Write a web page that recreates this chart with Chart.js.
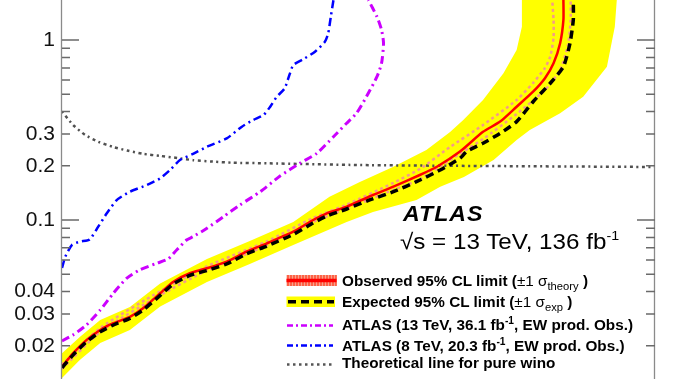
<!DOCTYPE html>
<html><head><meta charset="utf-8">
<script src="https://cdn.jsdelivr.net/npm/chart.js@4.4.1/dist/chart.umd.min.js"></script>
<style>
html,body{margin:0;padding:0;background:#fff;overflow:hidden}
#wrap{position:relative;width:676px;height:379px}
#c{position:absolute;left:0;top:0}
.t{position:absolute;white-space:nowrap;font-family:'Liberation Sans',Arial,sans-serif;color:#000;transform-origin:0 50%}
.leg{font-size:15px;font-weight:bold;line-height:15px;left:341.5px;transform:scaleX(1.02)}
.n{font-weight:normal}
.sub{position:relative;top:4px;font-size:11px;font-weight:normal}
.sup{position:relative;top:-6px;font-size:10px}
</style></head><body>
<div id="wrap"><canvas id="c" width="676" height="379"></canvas>
<div class="t" style="left:403px;top:203px;font-size:22px;line-height:22px;font-weight:bold;font-style:italic;letter-spacing:1px;transform:scaleX(1.05)">ATLAS</div>
<div class="t" style="left:400px;top:231px;font-size:22px;line-height:22px;transform:scaleX(1.1)">√s = 13 TeV, 136 fb<span style="position:relative;top:-9px;font-size:13px">-1</span></div>
<div class="t leg" style="top:273px">Observed 95% CL limit (<span class="n">±1 σ</span><span class="sub">theory</span> )</div>
<div class="t leg" style="top:294px">Expected 95% CL limit (<span class="n">±1 σ</span><span class="sub">exp</span> )</div>
<div class="t leg" style="top:317px">ATLAS (13 TeV, 36.1 fb<span class="sup">-1</span>, EW prod. Obs.)</div>
<div class="t leg" style="top:337.5px">ATLAS (8 TeV, 20.3 fb<span class="sup">-1</span>, EW prod. Obs.)</div>
<div class="t leg" style="top:355px">Theoretical line for pure wino</div>
</div>
<script>
// ---- data (chargino mass [GeV], lifetime [ns]) ----
const theoryMass = [100,117,135,155,177,199,223,249,275,299,329,360,411,552,693,1000];
const theoryTau  = [0.400,0.337,0.297,0.272,0.255,0.243,0.233,0.227,0.221,0.215,0.211,0.208,0.2065,0.202,0.200,0.197];

const atlas8Mass = [100,105,115,127,142,155,168,183,203,229,249,264,279,299,320,350,373,390,406,416,426,438,446,451,466,484,499,504,508,512];
const atlas8Tau  = [0.0541,0.0625,0.0726,0.0757,0.078,0.0918,0.1089,0.129,0.1436,0.1565,0.1704,0.1896,0.2154,0.233,0.255,0.284,0.330,0.359,0.383,0.426,0.484,0.539,0.653,0.726,0.781,0.861,0.978,1.089,1.347,1.668];

const atlas13Mass = [100,117,137,158,178,198,218,244,261,274,289,299,320,345,370,401,431,461,487,512,532,547,562,578,585,588,585,578,565];
const atlas13Tau  = [0.0213,0.0230,0.0261,0.0316,0.0392,0.0474,0.0528,0.0575,0.0607,0.0681,0.0774,0.0808,0.0899,0.1043,0.1212,0.1436,0.1756,0.2065,0.235,0.290,0.345,0.392,0.484,0.625,0.742,0.959,1.137,1.347,1.668];

const obsMass = [100,117,137,158,178,203,223,249,269,294,320,350,380,411,451,481,502,532,572,603,643,669,704,739,765,790,815,833,846,856,861,861];
const obsTau  = [0.0153,0.0182,0.0215,0.0245,0.0267,0.0290,0.0323,0.0392,0.0454,0.0506,0.0539,0.0587,0.0667,0.0742,0.0861,0.100,0.1089,0.1186,0.1377,0.1531,0.1778,0.1977,0.240,0.309,0.352,0.426,0.516,0.613,0.742,0.959,1.292,1.668];

const obsUpMass = [100,158,249,320,411,481,532,603,643,689,739,790,815,833,841,846,846,844];
const obsUpTau  = [0.0157,0.0251,0.0402,0.0553,0.0761,0.1026,0.1217,0.161,0.192,0.2544,0.337,0.464,0.577,0.699,0.808,1.026,1.292,1.668];
const obsDnMass = [100,158,249,320,411,481,532,603,643,689,739,790,833,856,868,872,872];
const obsDnTau  = [0.0149,0.0239,0.0382,0.0525,0.0723,0.0975,0.1156,0.147,0.168,0.2154,0.2818,0.388,0.528,0.681,0.938,1.292,1.668];

const expMass = [100,117,137,158,178,203,223,249,269,294,320,350,380,411,451,481,502,532,567,603,638,674,704,714,739,765,790,815,841,861,871,876,876];
const expTau  = [0.0151,0.0178,0.0210,0.0239,0.0261,0.0284,0.0316,0.0381,0.0441,0.0492,0.0524,0.0570,0.0648,0.0717,0.0831,0.0962,0.1052,0.1151,0.1292,0.1436,0.1632,0.1896,0.220,0.240,0.267,0.303,0.352,0.454,0.575,0.711,0.959,1.292,1.668];

const expUpMass = [100,127,158,203,249,320,385,451,506,552,603,653,689,709,739,770,790,798,798];
const expUpTau  = [0.0182,0.0224,0.0278,0.0329,0.0444,0.0607,0.0764,0.0975,0.1347,0.1626,0.1977,0.245,0.308,0.359,0.464,0.653,0.880,1.186,1.668];
const expDnMass = [100,127,158,203,249,320,385,451,532,572,638,674,710,755,790,810,856,891,927,939,942];
const expDnTau  = [0.01325,0.0167,0.0207,0.0245,0.0331,0.0452,0.0570,0.0726,0.0975,0.1108,0.1292,0.1531,0.1733,0.2154,0.278,0.316,0.392,0.484,0.711,1.186,1.668];

// axis ticks / labels
const yLabelValues = [1,0.3,0.2,0.1,0.04,0.03,0.02];
const yTickLabels  = ['1','0.3','0.2','0.1','0.04','0.03','0.02'];
const yMinorTicks  = [0.02,0.03,0.04,0.05,0.06,0.07,0.08,0.09,0.1,0.2,0.3,0.4,0.5,0.6,0.7,0.8,0.9,1];
const yMajorTicks  = [0.1,1];
const xRange = [100,1000];
const yRange = [0.01308,1.668];

const pts = (m,t) => m.map((x,i)=>({x, y:t[i]}));
const bandPts = pts(expUpMass,expUpTau).concat(pts(expDnMass,expDnTau).reverse());

Chart.defaults.font.family = "'Liberation Sans', Arial, sans-serif";

const framePlugin = {
  id:'frame',
  afterDatasetsDraw(chart){
    const {ctx, chartArea:a, scales:{y}} = chart;
    ctx.save();
    ctx.strokeStyle = '#8a8a8a'; ctx.lineWidth = 1.3;
    ctx.beginPath();
    ctx.moveTo(a.left-0.5, a.top); ctx.lineTo(a.left-0.5, a.bottom);
    ctx.moveTo(a.right-0.5, a.top); ctx.lineTo(a.right-0.5, a.bottom);
    ctx.stroke();
    ctx.strokeStyle = '#6a6a6a'; ctx.lineWidth = 1.5;
    for (const v of yMinorTicks) {
      const py = y.getPixelForValue(v);
      const major = yMajorTicks.includes(v);
      ctx.beginPath();
      ctx.moveTo(a.left, py); ctx.lineTo(a.left + (major?17:8), py);
      ctx.moveTo(a.right, py); ctx.lineTo(a.right - (major?18:9), py);
      ctx.stroke();
    }
    ctx.restore();
  },
  afterDraw(chart){
    const ctx = chart.ctx;
    const seg = (x1,y1,x2,y2)=>{ctx.beginPath();ctx.moveTo(x1,y1);ctx.lineTo(x2,y2);ctx.stroke();};
    ctx.save();
    ctx.fillStyle = '#f8a390'; ctx.fillRect(286.5,275,50,11);
    ctx.strokeStyle = '#ff4020'; ctx.lineWidth = 1.3;
    for (let x=288; x<336.5; x+=3) seg(x,275,x,286);
    ctx.strokeStyle = '#ff0000'; ctx.lineWidth = 3.5; seg(286.5,280.5,336.5,280.5);
    ctx.fillStyle = '#ffff00'; ctx.fillRect(286.5,296.5,48.5,10.5);
    ctx.setLineDash([8,5]); ctx.strokeStyle = '#000'; ctx.lineWidth = 3.5; seg(288,301.7,334,301.7);
    ctx.setLineDash([6,3,2,3]); ctx.strokeStyle = '#cc00ff'; ctx.lineWidth = 2.5; seg(287,325.5,333,325.5);
    ctx.strokeStyle = '#0000ff'; seg(287,345.5,333,345.5);
    ctx.setLineDash([2.5,3.5]); ctx.strokeStyle = '#555'; ctx.lineWidth = 2.5; seg(287,364.5,333,364.5);
    ctx.restore();
  }
};

new Chart(document.getElementById('c'), {
  type: 'line',
  data: {
    datasets: [
      {label:'Expected', data: pts(expMass,expTau), borderColor:'#000', borderWidth:3.5, borderDash:[8,5], order:1},
      {label:'Observed', data: pts(obsMass,obsTau), borderColor:'#ff0000', borderWidth:2.5, order:2},
      {label:'Obs +1 sigma theory', data: pts(obsUpMass,obsUpTau), borderColor:'#f59a8a', borderWidth:2.5, borderDash:[3,3], order:3},
      {label:'Obs -1 sigma theory', data: pts(obsDnMass,obsDnTau), borderColor:'#f59a8a', borderWidth:2.5, borderDash:[3,3], order:3},
      {label:'ATLAS 13 TeV 36.1', data: pts(atlas13Mass,atlas13Tau), borderColor:'#cc00ff', borderWidth:3, borderDash:[8,4,2,4], order:4},
      {label:'ATLAS 8 TeV 20.3', data: pts(atlas8Mass,atlas8Tau), borderColor:'#0000ff', borderWidth:2.5, borderDash:[8,4,2,4], order:5},
      {label:'Theory wino', data: pts(theoryMass,theoryTau), borderColor:'#505050', borderWidth:2.5, borderDash:[2,3.5,3,3.5], order:6},
      {label:'Expected band', data: bandPts, borderWidth:0, borderColor:'rgba(0,0,0,0)', backgroundColor:'#ffff00', fill:'shape', tension:0, order:10}
    ]
  },
  options: {
    responsive:false, animation:false,
    layout:{padding:{left:0,right:21,top:0,bottom:0}},
    elements:{point:{radius:0}, line:{tension:0.2, fill:false}},
    plugins:{legend:{display:false}, tooltip:{enabled:false}},
    scales:{
      x:{type:'linear', min:xRange[0], max:xRange[1], display:false},
      y:{type:'logarithmic', min:yRange[0], max:yRange[1],
         afterBuildTicks: s => { s.ticks = yLabelValues.map(v=>({value:v})); },
         afterFit: s => { s.width = 62; s.paddingTop = 0; s.paddingBottom = 0; },
         grid:{display:false, drawTicks:false},
         border:{display:false},
         ticks:{autoSkip:false, maxRotation:0, padding:7, color:'#111', font:{size:21},
           callback: v => { const i = yLabelValues.indexOf(v); return i>=0 ? yTickLabels[i] : null; }}
      }
    }
  },
  plugins:[framePlugin]
});
</script>
</body></html>
